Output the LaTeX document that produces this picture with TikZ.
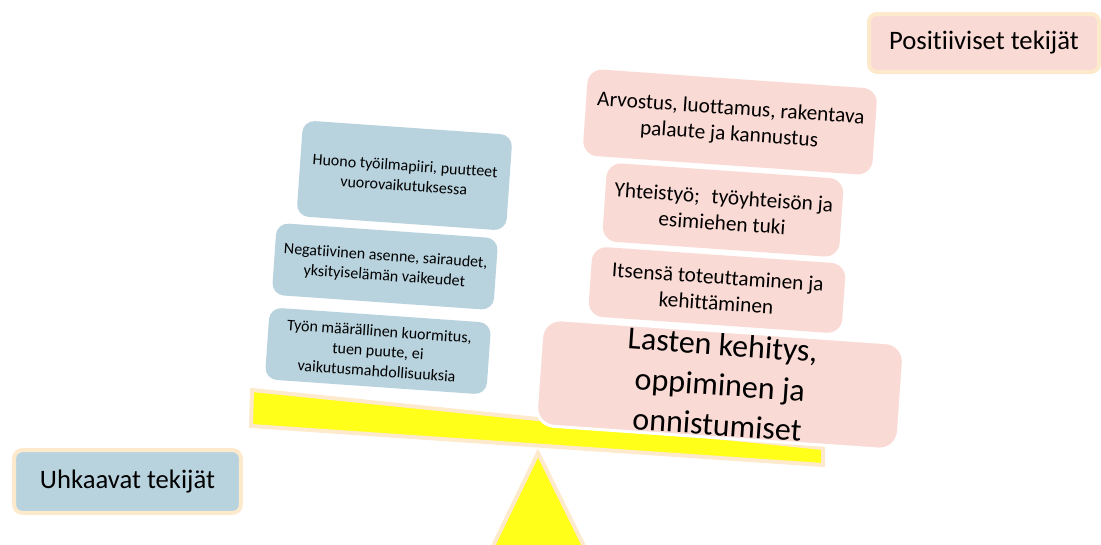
\documentclass[tikz,border=0pt]{standalone}
\usepackage{fontspec}
\setmainfont{Carlito}[Ligatures=NoCommon]
\usetikzlibrary{shapes,positioning,calc}
\definecolor{threat}{RGB}{184,211,222}
\definecolor{posfill}{RGB}{250,218,212}
\definecolor{peach}{RGB}{253,234,204}
\definecolor{beamyellow}{RGB}{255,255,26}

\begin{document}
\begin{tikzpicture}[x=0.75pt,y=-0.75pt,
  threatbox/.style={fill=threat, rounded corners=9pt, rotate=-4, align=center, inner sep=1pt, font=\fontsize{12}{15}\selectfont},
  posbox/.style={fill=posfill, rounded corners=11pt, rotate=-4, align=center, inner sep=1pt, font=\fontsize{16}{19.5}\selectfont},
  titlebox/.style={draw=peach, line width=3pt, rounded corners=6pt, inner sep=2pt, font=\fontsize{20}{24}\selectfont}]
\useasboundingbox (0,0) rectangle (1101,544);
% seesaw: beam and stand
\draw[draw=peach, line width=3pt, fill=beamyellow] (252,390) -- (823,448) -- (823,465) -- (251,426) -- cycle;
\draw[draw=peach, line width=3pt, fill=beamyellow] (538,453) -- (492,548) -- (585,548) -- cycle;

% threats on the left side
\node[threatbox, minimum width=157.5pt, minimum height=72pt] (t1) at (404.5,175.5) {Huono työilmapiiri, puutteet\\vuorovaikutuksessa};
\node[threatbox, minimum width=166.5pt, minimum height=54pt] (t2) at (385,266.5) {Negatiivinen asenne, sairaudet,\\yksityiselämän vaikeudet};
\node[threatbox, minimum width=166.5pt, minimum height=54pt] (t3) at (378,351) {Työn määrällinen kuormitus,\\tuen puute, ei\\vaikutusmahdollisuuksia};

% positive factors on the right side
\node[posbox, minimum width=217.5pt, minimum height=65pt] (p1) at (730,122) {Arvostus, luottamus, rakentava\\palaute ja kannustus};
\node[posbox, minimum width=178pt, minimum height=59pt] (p2) at (723,210) {Yhteistyö;\hspace{0.55em}työyhteisön ja\\esimiehen tuki};
\node[posbox, minimum width=190.5pt, minimum height=52.5pt] (p3) at (717,290) {Itsensä toteuttaminen ja\\kehittäminen};
\node[posbox, draw=white, line width=2.25pt, rounded corners=14pt, minimum width=272pt, minimum height=80pt, inner sep=0pt, font=\fontsize{24}{30}\selectfont] (p4) at (720,384.5) {Lasten kehitys,\\oppiminen ja\\onnistumiset};

% side titles
\node[titlebox, fill=threat, minimum width=170pt, minimum height=47pt] (uhk) at (127.5,481.5) {Uhkaavat tekijät};
\node[titlebox, fill=posfill, minimum width=172.5pt, minimum height=43.5pt] (posit) at (984,43) {Positiiviset tekijät};
\end{tikzpicture}
\end{document}
